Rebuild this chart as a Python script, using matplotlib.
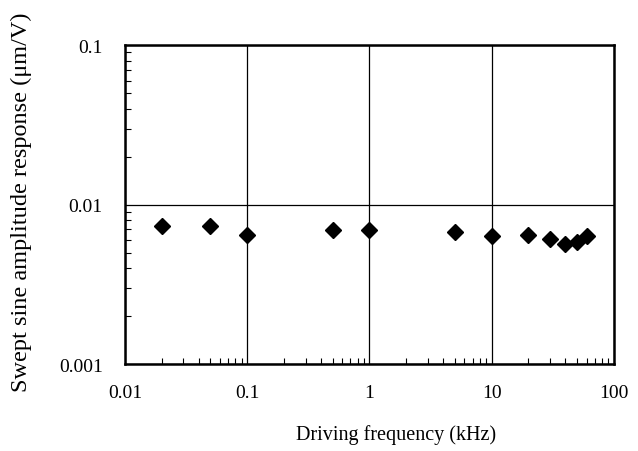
import numpy as np
import matplotlib.pyplot as plt

plt.rcParams['font.family'] = ['Liberation Serif', 'DejaVu Serif']

# driving frequency (kHz) and swept sine amplitude response (um/V)
freq = [0.02, 0.05, 0.1, 0.5, 1, 5, 10, 20, 30, 40, 50, 60]
resp = [0.0074, 0.0073, 0.0065, 0.0069, 0.0069, 0.0067, 0.0064, 0.0065, 0.0061, 0.0057, 0.0058, 0.0064]

xticks = [0.01, 0.1, 1, 10, 100]
xlabels = ['0.01', '0.1', '1', '10', '100']
yticks = [0.001, 0.01, 0.1]
ylabels = ['0.001', '0.01', '0.1']

fig = plt.figure(figsize=(6.38, 4.52), dpi=100)
ax = fig.add_axes([0.196, 0.192, 0.766, 0.706])

ax.plot(freq, resp, 'D', color='black', markersize=8, zorder=3)

ax.set_xscale('log')
ax.set_yscale('log')
ax.set_xlim(0.01, 100)
ax.set_ylim(0.001, 0.1)
ax.set_xticks(xticks)
ax.set_xticklabels(xlabels)
ax.set_yticks(yticks)
ax.set_yticklabels(ylabels)

ax.grid(True, which='major', color='black', linewidth=0.9)
ax.tick_params(which='major', length=0, labelsize=14)
ax.tick_params(axis='x', which='major', pad=14)
ax.tick_params(axis='y', which='major', pad=16)
ax.tick_params(which='minor', direction='in', length=4, width=0.8)
for s in ax.spines.values():
    s.set_linewidth(1.8)

ax.set_xlabel('Driving frequency (kHz)', fontsize=14.5)
ax.xaxis.set_label_coords(0.554, -0.188)
ax.set_ylabel('Swept sine amplitude response (μm/V)', fontsize=17.5)
ax.yaxis.set_label_coords(-0.19, 0.51)

fig.savefig('out.png', dpi=100)
